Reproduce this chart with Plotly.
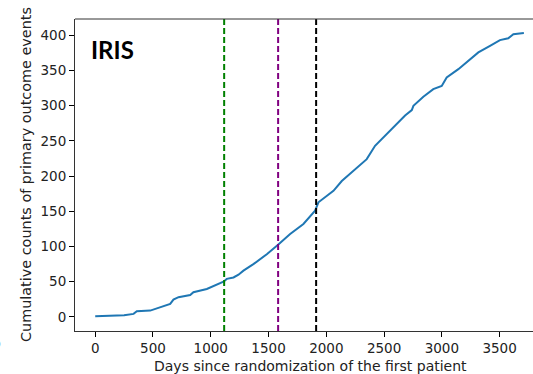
import plotly.graph_objects as go

days = [0, 120, 250, 332, 360, 476, 577, 649, 677, 721, 822, 850, 966, 1038, 1110,
        1139, 1197, 1240, 1283, 1369, 1485, 1580, 1687, 1802, 1903, 1932, 2033, 2062,
        2134, 2235, 2350, 2422, 2523, 2610, 2682, 2740, 2754, 2840, 2926, 2999, 3042,
        3143, 3229, 3316, 3417, 3503, 3575, 3619, 3710]
counts = [1, 1.5, 2.5, 4.3, 8, 9, 15, 18.4, 24.6, 28, 31, 35, 39.7, 44.4, 50,
          54, 56, 60, 65.7, 75, 89, 102, 117.7, 132, 150.8, 162.7, 174.5, 179,
          193, 207.5, 224, 243, 259.6, 273.8, 286, 293.6, 299.7, 312.5, 323.4, 328, 340,
          351.8, 363.5, 375.5, 384.8, 393, 395.7, 401.4, 403]

vline_days = [1116, 1583, 1912]
vline_colors = ["#008000", "#800080", "#000000"]

x_ticks = [0, 500, 1000, 1500, 2000, 2500, 3000, 3500]
y_ticks = [0, 50, 100, 150, 200, 250, 300, 350, 400]

fig = go.Figure()
fig.add_trace(go.Scatter(x=days, y=counts, mode="lines",
                         line=dict(color="#1f77b4", width=2), showlegend=False))

for d, c in zip(vline_days, vline_colors):
    fig.add_shape(type="line", xref="x", yref="paper", x0=d, x1=d, y0=0, y1=1,
                  line=dict(color=c, width=2, dash="6px,3px"))

font = "DejaVu Sans"
tick_size = 13.5
fig.update_layout(
    width=533, height=374,
    margin=dict(l=75, r=0, t=19, b=43),
    paper_bgcolor="white", plot_bgcolor="white",
    font=dict(family=font, size=tick_size, color="black"),
    xaxis=dict(range=[-175, 3789], tickvals=x_ticks, ticks="outside", ticklen=5,
               tickcolor="black", showgrid=False, zeroline=False,
               showline=True, linecolor="#333333", linewidth=1, mirror=False,
               tickfont=dict(family=font, size=tick_size, color="#222222")),
    yaxis=dict(range=[-20, 423], tickvals=y_ticks, ticks="outside", ticklen=5,
               tickcolor="black", showgrid=False, zeroline=False,
               showline=True, linecolor="#333333", linewidth=1,
               tickfont=dict(family=font, size=tick_size, color="#222222")),
)
# top spine
fig.add_shape(type="line", xref="paper", yref="paper", x0=0, x1=1, y0=1, y1=1,
              line=dict(color="#333333", width=1))

fig.add_annotation(text="<b>IRIS</b>", xref="paper", yref="paper",
                   x=(89 - 75) / 458, y=1 - (33 - 19) / 312, xanchor="left", yanchor="top",
                   showarrow=False,
                   font=dict(family="Lato", size=24, color="black"))
fig.add_annotation(text="Days since randomization of the first patient",
                   xref="paper", yref="paper", x=(310 - 75) / 458, y=-(366 - 331) / 312,
                   xanchor="center", yanchor="middle", showarrow=False,
                   font=dict(family=font, size=14, color="#222222"))
fig.add_annotation(text="Cumulative counts of primary outcome events",
                   xref="paper", yref="paper", x=-(75 - 26) / 458, y=(331 - 175) / 312,
                   xanchor="center", yanchor="middle", textangle=-90, showarrow=False,
                   font=dict(family=font, size=14.4, color="#222222"))
fig.add_annotation(text="D", xref="paper", yref="paper", x=-(75 - 3) / 458,
                   y=-(344 - 331) / 312, xanchor="right", yanchor="middle",
                   showarrow=False, font=dict(family=font, size=14))

fig.write_html("out.html", config={"displayModeBar": False},
               post_script="document.body.style.margin='0';")
